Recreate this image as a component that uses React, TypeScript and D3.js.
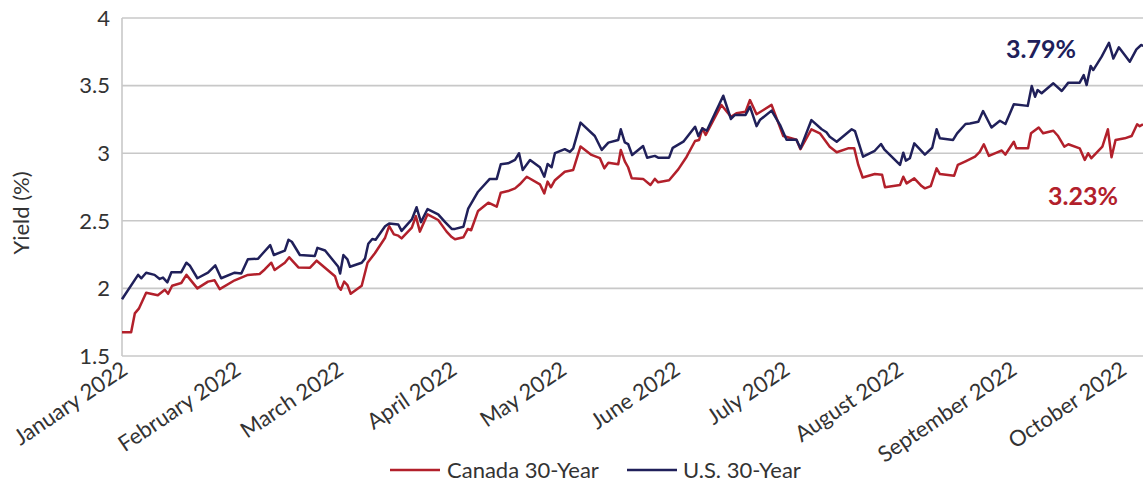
import React from "react";
import * as d3 from "d3";

// Days since 2022-01-01 and yield (%)
const usDays = [0, 4.4, 5.3, 6.6, 8.9, 10.3, 11.2, 12.4, 13.5, 16.2, 17.6, 18.5, 20.6, 23.5, 25.5, 27.1, 30.8, 32.6, 34.4, 37.2, 38.5, 40.5, 41.5, 44.5, 45.5, 46.4, 48.6, 52.7, 53.4, 55.5, 59.1, 59.6, 60.5, 61.6, 62.3, 65.5, 66.4, 67.3, 68.4, 69.3, 71.9, 73.0, 75.5, 76.4, 79.2, 80.5, 81.7, 83.5, 86.4, 88.3, 90.1, 91.0, 93.3, 94.6, 97.3, 100.5, 102.4, 103.5, 105.5, 107.4, 108.5, 109.5, 111.5, 114.2, 115.4, 116.3, 117.4, 118.3, 121.0, 122.4, 123.3, 125.3, 129.2, 131.1, 132.9, 135.6, 136.3, 137.4, 138.3, 139.4, 142.4, 143.5, 145.6, 146.5, 149.5, 150.5, 153.4, 156.6, 157.5, 158.6, 159.8, 164.3, 166.4, 167.5, 170.4, 171.6, 173.4, 174.3, 177.5, 179.8, 181.6, 184.3, 185.4, 188.4, 191.2, 192.5, 193.4, 195.3, 199.4, 200.3, 202.5, 205.7, 207.4, 208.3, 212.6, 213.5, 214.2, 215.3, 216.5, 219.4, 221.4, 222.6, 223.5, 227.1, 228.2, 230.5, 231.7, 234.0, 235.3, 237.6, 239.9, 241.4, 243.7, 247.5, 248.6, 249.5, 250.2, 251.3, 254.5, 256.8, 258.6, 261.7, 262.8, 263.6, 264.7, 265.4, 267.7, 269.7, 270.9, 272.4, 275.4, 277.2, 278.5, 279.5];
const usValues = [1.92, 2.10, 2.075, 2.116, 2.10, 2.07, 2.08, 2.045, 2.12, 2.12, 2.19, 2.17, 2.075, 2.116, 2.17, 2.075, 2.116, 2.11, 2.215, 2.22, 2.26, 2.32, 2.247, 2.28, 2.36, 2.345, 2.247, 2.24, 2.30, 2.28, 2.16, 2.11, 2.247, 2.215, 2.16, 2.19, 2.22, 2.33, 2.365, 2.36, 2.46, 2.48, 2.473, 2.425, 2.51, 2.60, 2.49, 2.587, 2.548, 2.49, 2.44, 2.44, 2.456, 2.59, 2.715, 2.81, 2.81, 2.918, 2.925, 2.95, 3.0, 2.876, 2.95, 2.896, 2.826, 2.92, 2.896, 3.0, 3.03, 3.01, 3.036, 3.226, 3.127, 3.024, 3.078, 3.098, 3.177, 3.08, 3.068, 2.987, 3.053, 2.967, 2.98, 2.967, 2.967, 3.04, 3.085, 3.196, 3.127, 3.184, 3.166, 3.425, 3.253, 3.283, 3.283, 3.344, 3.20, 3.245, 3.315, 3.21, 3.10, 3.10, 3.036, 3.245, 3.177, 3.155, 3.122, 3.085, 3.177, 3.164, 2.974, 3.018, 3.068, 3.029, 2.913, 3.004, 2.945, 2.963, 3.073, 2.99, 3.04, 3.177, 3.11, 3.098, 3.147, 3.216, 3.22, 3.233, 3.312, 3.19, 3.24, 3.216, 3.362, 3.35, 3.497, 3.418, 3.467, 3.444, 3.517, 3.46, 3.522, 3.522, 3.578, 3.504, 3.645, 3.615, 3.714, 3.817, 3.70, 3.783, 3.677, 3.768, 3.80, 3.79];

const caDays = [0, 2.5, 3.5, 4.6, 6.6, 9.8, 11.7, 12.6, 13.7, 16.2, 17.6, 20.6, 23.5, 25.3, 26.7, 30.8, 34.4, 37.6, 39.0, 40.8, 41.7, 44.5, 45.7, 48.2, 51.4, 53.2, 58.2, 59.1, 59.8, 60.7, 61.6, 62.5, 65.5, 67.1, 69.1, 71.9, 73.0, 74.3, 75.5, 76.4, 79.2, 80.3, 81.4, 83.5, 86.4, 88.7, 90.1, 91.0, 93.3, 94.5, 95.4, 97.3, 100.1, 102.4, 103.5, 105.5, 107.4, 108.7, 110.6, 114.2, 115.4, 116.3, 117.2, 118.3, 121.0, 123.3, 125.3, 128.3, 130.6, 131.8, 132.9, 135.6, 136.3, 137.4, 138.3, 139.3, 142.4, 144.4, 145.6, 146.5, 149.5, 152.0, 154.3, 156.6, 157.7, 158.6, 159.5, 163.8, 166.4, 167.9, 170.4, 171.6, 173.4, 177.5, 180.7, 184.3, 185.4, 188.4, 190.7, 193.4, 195.3, 198.4, 200.1, 201.2, 202.4, 205.7, 207.7, 208.5, 212.6, 213.5, 214.4, 216.5, 218.5, 219.4, 221.0, 222.6, 223.5, 227.4, 228.4, 230.5, 233.1, 234.4, 235.5, 236.9, 239.0, 240.4, 241.4, 243.7, 244.4, 247.6, 248.4, 250.5, 251.7, 254.5, 255.8, 257.5, 258.6, 261.7, 263.1, 264.0, 264.9, 267.9, 269.4, 270.4, 271.5, 274.0, 275.9, 277.4, 278.1, 279.0];
const caValues = [1.675, 1.675, 1.815, 1.85, 1.968, 1.95, 1.99, 1.96, 2.02, 2.04, 2.10, 2.0, 2.05, 2.06, 1.995, 2.06, 2.10, 2.107, 2.14, 2.19, 2.136, 2.19, 2.23, 2.155, 2.153, 2.205, 2.09, 2.013, 1.99, 2.05, 2.025, 1.96, 2.02, 2.19, 2.26, 2.375, 2.46, 2.40, 2.39, 2.37, 2.45, 2.535, 2.42, 2.548, 2.506, 2.42, 2.38, 2.363, 2.378, 2.44, 2.43, 2.573, 2.634, 2.604, 2.708, 2.72, 2.74, 2.77, 2.826, 2.77, 2.703, 2.79, 2.748, 2.80, 2.863, 2.876, 3.05, 2.987, 2.963, 2.888, 2.93, 2.918, 3.024, 2.94, 2.896, 2.814, 2.81, 2.765, 2.81, 2.785, 2.80, 2.88, 2.974, 3.09, 3.098, 3.184, 3.135, 3.357, 3.27, 3.295, 3.307, 3.393, 3.288, 3.357, 3.127, 3.10, 3.03, 3.177, 3.147, 3.048, 3.007, 3.036, 3.036, 2.913, 2.82, 2.846, 2.84, 2.748, 2.765, 2.826, 2.777, 2.814, 2.757, 2.74, 2.757, 2.888, 2.846, 2.834, 2.913, 2.94, 2.974, 3.01, 3.066, 2.98, 3.004, 3.02, 2.99, 3.085, 3.036, 3.036, 3.147, 3.19, 3.147, 3.166, 3.127, 3.048, 3.066, 3.036, 2.95, 3.0, 2.963, 3.048, 3.177, 2.97, 3.098, 3.11, 3.127, 3.214, 3.20, 3.214];

const yTicks = [1.5, 2, 2.5, 3, 3.5, 4];
const monthLabels = ["January 2022", "February 2022", "March 2022", "April 2022", "May 2022", "June 2022", "July 2022", "August 2022", "September 2022", "October 2022"];
const seriesNames = ["Canada 30-Year", "U.S. 30-Year"];
const endLabels = ["3.23%", "3.79%"];

const RED = "#b2202b";
const NAVY = "#20205a";
const FONT = "Lato, 'Noto Sans', sans-serif";

const start = new Date(2022, 0, 1);
const dayToDate = (d: number) => new Date(start.getTime() + d * 86400000);

export default function App() {
  const W = 1143, H = 485;
  const left = 122, right = 1143, top = 18, bottom = 356;
  const x = d3.scaleTime().domain([start, dayToDate(279)]).range([left, right]);
  const y = d3.scaleLinear().domain([1.5, 4]).range([bottom, top]);

  const us = usDays.map((d, i) => ({ date: dayToDate(d), v: usValues[i] }));
  const ca = caDays.map((d, i) => ({ date: dayToDate(d), v: caValues[i] }));
  const line = d3.line<{ date: Date; v: number }>().x(p => x(p.date)).y(p => y(p.v));

  const months = d3.timeMonth.range(start, new Date(2022, 9, 2));

  return (
    <svg width={W} height={H} style={{ position: "absolute", left: 0, top: 0, background: "#fff" }} fontFamily={FONT}>
      {yTicks.map(t => (
        <line key={t} x1={left} x2={right} y1={y(t)} y2={y(t)} stroke="#c8c8c8" strokeWidth={1.6} />
      ))}
      <line x1={left} x2={left} y1={top} y2={bottom} stroke="#c8c8c8" strokeWidth={1.6} />
      {yTicks.map(t => (
        <text key={t} x={110} y={y(t)} dy="0.35em" textAnchor="end" fontSize={22} fill="#333">
          {String(t)}
        </text>
      ))}
      <text transform={`translate(29,${213}) rotate(-90)`} textAnchor="middle" fontSize={22} fill="#333">Yield (%)</text>
      {months.map((m, i) => (
        <text key={i} transform={`translate(${x(m) + 7},${373}) rotate(-34)`} textAnchor="end" fontSize={22} fill="#333">
          {monthLabels[i]}
        </text>
      ))}
      <path d={line(ca) || ""} fill="none" stroke={RED} strokeWidth={2.5} strokeLinejoin="round" />
      <path d={line(us) || ""} fill="none" stroke={NAVY} strokeWidth={2.5} strokeLinejoin="round" />
      <text x={1041} y={58} textAnchor="middle" fontSize={25} fontWeight="bold" fill={NAVY}>{endLabels[1]}</text>
      <text x={1083} y={205} textAnchor="middle" fontSize={25} fontWeight="bold" fill={RED}>{endLabels[0]}</text>
      <line x1={390} x2={440} y1={470} y2={470} stroke={RED} strokeWidth={2.5} />
      <text x={447} y={478} fontSize={22} fill="#333">{seriesNames[0]}</text>
      <line x1={627} x2={677} y1={470} y2={470} stroke={NAVY} strokeWidth={2.5} />
      <text x={683} y={478} fontSize={22} fill="#333">{seriesNames[1]}</text>
    </svg>
  );
}
